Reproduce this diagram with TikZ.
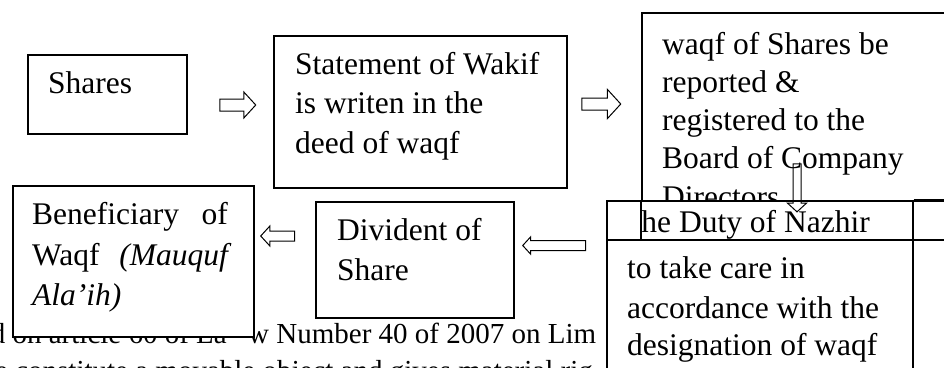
\documentclass[tikz,border=0pt]{standalone}
\usepackage{fontspec}
\setmainfont{Liberation Serif}
\usetikzlibrary{shapes.arrows}
\begin{document}
\begin{tikzpicture}[x=1pt,y=-1pt,
  box/.style={draw, line width=1.5pt, inner sep=0pt, anchor=north west},
  txt/.style={anchor=base west, inner sep=0pt, font=\fontsize{31.5}{38}\selectfont},
  bgtxt/.style={anchor=base west, inner sep=0pt, font=\fontsize{29}{35}\selectfont},
  barrow/.style={single arrow, draw, line width=1pt, single arrow tip angle=95,
    single arrow head indent=0pt, anchor=center}
]
\useasboundingbox (0,0) rectangle (944,367);
\clip (0,0) rectangle (944,367);
% background running text
\node[bgtxt, anchor=base east] (bg1a) at (227,343) {d on article 60 of La};
\node[bgtxt] (bg1b) at (248,343) {w Number 40 of 2007 on Lim};
\node[bgtxt] (bg2) at (-5,380) {e constitute a movable object and gives material rig};
% Shares
\node[box, minimum width=159pt, minimum height=79pt] (shares) at (27,54) {};
\node[txt] (tshares) at (48,93) {Shares};
\node[barrow, inner sep=5.5pt, single arrow head extend=7pt, minimum height=36pt] (a1) at (235,105) {};
% Statement
\node[box, minimum width=293pt, minimum height=152pt] (stmt) at (273,35) {};
\node[txt] (st1) at (295,74) {Statement of Wakif};
\node[txt] (st2) at (295,113) {is writen in the};
\node[txt] (st3) at (295,153) {deed of waqf};
\node[barrow, inner sep=5.5pt, single arrow head extend=8.5pt, minimum height=39pt] (a2) at (598.5,104) {};
% Registered
\node[box, minimum width=330pt, minimum height=188pt] (reg) at (641,12) {};
\node[txt] (rg1) at (662,54) {waqf of Shares be};
\node[txt] (rg2) at (662,92) {reported \&};
\node[txt] (rg3) at (662,130) {registered to the};
\node[txt] (rg4) at (662,168) {Board of Company};
\node[txt] (rg5) at (662,207) {Directors};
% Duty table
\node[box, fill=white, minimum width=306pt, minimum height=200pt] (duty) at (606,200) {};
\coordinate (tr) at (944,200);
\coordinate (hl) at (606,240);
\coordinate (hr) at (944,240);
\coordinate (vt) at (641,200);
\coordinate (vb) at (641,240);
\draw[line width=1.5pt] (duty.north east) -- (tr);
\draw[line width=1.5pt] (hl) -- (hr);
\draw[line width=1.5pt] (vt) -- (vb);
\begin{scope}
\clip (642,201) rectangle (911,239);
\node[txt] (dutyh) at (622,232) {The Duty of Nazhir};
\end{scope}
\node[txt] (du1) at (627,278) {to take care in};
\node[txt] (du2) at (627,318) {accordance with the};
\node[txt] (du3) at (627,355) {designation of waqf};
\node[barrow, rotate=-90, inner sep=3.5pt, single arrow head extend=5.5pt, minimum height=48pt] (a5) at (797,186) {};
% Beneficiary
\node[box, fill=white, minimum width=241pt, minimum height=151pt] (benef) at (12,185) {};
\node[txt] (bn1) at (32,224) {Beneficiary};
\node[txt, anchor=base east] (bn1b) at (228,224) {of};
\node[txt] (bn2) at (32,265) {Waqf};
\node[txt, anchor=base east] (bn2b) at (228,265) {\itshape (Mauquf};
\node[txt] (bn3) at (32,305) {\itshape Ala’ih)};
\node[barrow, rotate=180, inner sep=4.5pt, single arrow head extend=5pt, minimum height=34pt] (a3) at (280,236) {};
% Divident
\node[box, minimum width=198pt, minimum height=116pt] (divid) at (315,201) {};
\node[txt] (dv1) at (337,240) {Divident of};
\node[txt] (dv2) at (337,280) {Share};
\node[barrow, rotate=180, inner sep=4.5pt, single arrow head extend=3.5pt, minimum height=63pt] (a4) at (556.5,245.5) {};
\end{tikzpicture}
\end{document}
